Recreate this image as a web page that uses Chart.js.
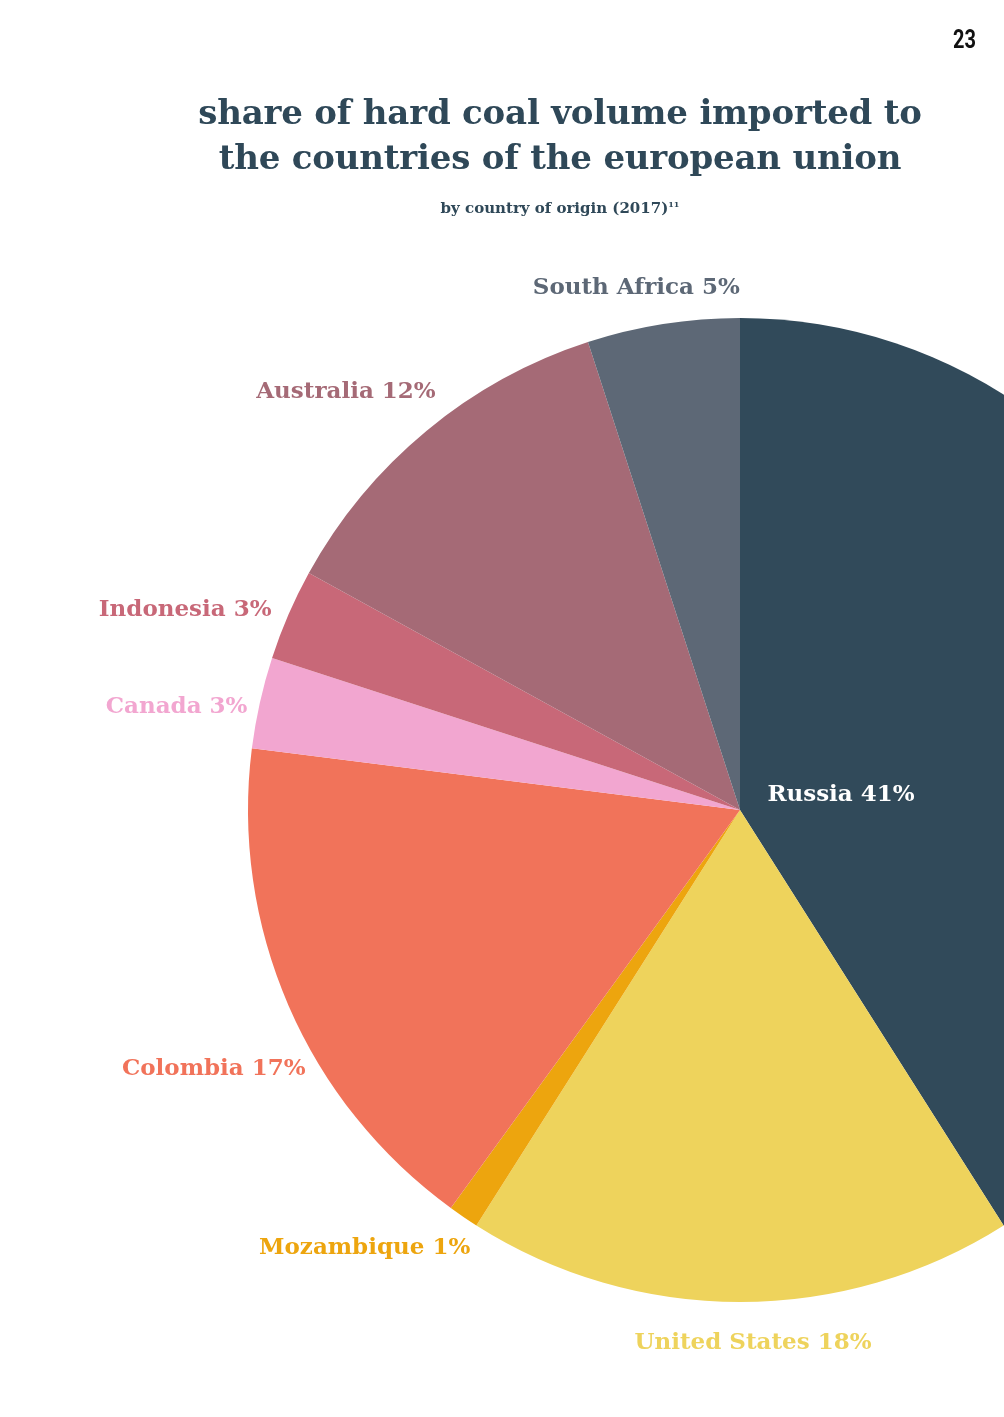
<!DOCTYPE html>
<html>
<head>
<meta charset="utf-8">
<script src="https://cdn.jsdelivr.net/npm/chart.js@4.4.1/dist/chart.umd.min.js"></script>
<style>
html, body { margin:0; padding:0; width:1004px; height:1417px; overflow:hidden; background:#fff; }
#wrap { position:absolute; left:0; top:0; width:1480px; height:1620px; }
.title { position:absolute; left:120px; width:880px; text-align:center; color:#2f4858;
  font-family:"DejaVu Serif", serif; font-weight:bold; font-size:34px; line-height:45px; top:90px; letter-spacing:-0.2px; }
.sub { position:absolute; left:120px; width:880px; text-align:center; top:199px; color:#2f4858;
  font-family:"DejaVu Serif", serif; font-weight:bold; font-size:15px; }
.sub sup { font-size:8px; }
.page { position:absolute; left:953px; top:25px; font-family:"Liberation Sans Narrow", "Roboto", sans-serif; font-weight:bold;
  font-size:25px; color:#111; transform:scaleX(0.8); transform-origin:left top; }
</style>
</head>
<body>
<div id="wrap"><canvas id="pie"></canvas></div>
<div class="title">share of hard coal volume imported to<br>the countries of the european union</div>
<div class="sub">by country of origin (2017)<sup>11</sup></div>
<div class="page">23</div>
<script>
// data, clockwise from 12 o'clock
var countries = ['Russia', 'United States', 'Mozambique', 'Colombia', 'Canada', 'Indonesia', 'Australia', 'South Africa'];
var shares = [41, 18, 1, 17, 3, 3, 12, 5];
var colours = ['#314a5a', '#eed35c', '#eda50e', '#f1735a', '#f2a6d0', '#c86878', '#a56a76', '#5d6876'];
var labelColours = ['#ffffff', '#eed35c', '#eda50e', '#f1735a', '#f2a6d0', '#c86878', '#a56a76', '#5d6876'];

// where each label sits: radius as a fraction of the pie radius, angle nudge in degrees
var labelRadius = [0.21, 1.08, 1.17, 1.19, 1.165, 1.2, 1.17, 1.085];
var labelNudge = [-3, -1.4, 6.5, -2.6, -2, -3.4, -3.6, -2.2];

const sliceLabels = {
  id: 'sliceLabels',
  afterDatasetsDraw(chart) {
    const ctx = chart.ctx;
    const meta = chart.getDatasetMeta(0);
    ctx.save();
    ctx.font = 'bold 23px "DejaVu Serif", serif';
    ctx.textAlign = 'center';
    ctx.textBaseline = 'middle';
    meta.data.forEach(function(arc, i) {
      var p = arc.getProps(['x', 'y', 'startAngle', 'endAngle', 'outerRadius'], true);
      var a = (p.startAngle + p.endAngle) / 2 + labelNudge[i] * Math.PI / 180;
      var r = p.outerRadius * labelRadius[i];
      var x = p.x + Math.cos(a) * r;
      var y = p.y + Math.sin(a) * r + 2;
      if (i == 0) { x = p.x + 101; y = p.y - 15; }
      ctx.fillStyle = labelColours[i];
      ctx.fillText(countries[i] + ' ' + shares[i] + '%', x, y);
    });
    ctx.restore();
  }
};

const data = {
  labels: countries,
  datasets: [{
    data: shares,
    backgroundColor: colours,
    borderWidth: 0
  }]
};

const config = {
  type: 'pie',
  data: data,
  options: {
    responsive: false,
    animation: false,
    layout: { padding: { left: 248, right: 248, top: 318, bottom: 318 } },
    plugins: {
      legend: { display: false },
      tooltip: { enabled: false }
    }
  },
  plugins: [sliceLabels]
};

const canvas = document.getElementById('pie');
canvas.width = 1480;
canvas.height = 1620;
const myChart = new Chart(canvas, config);
</script>
</body>
</html>
